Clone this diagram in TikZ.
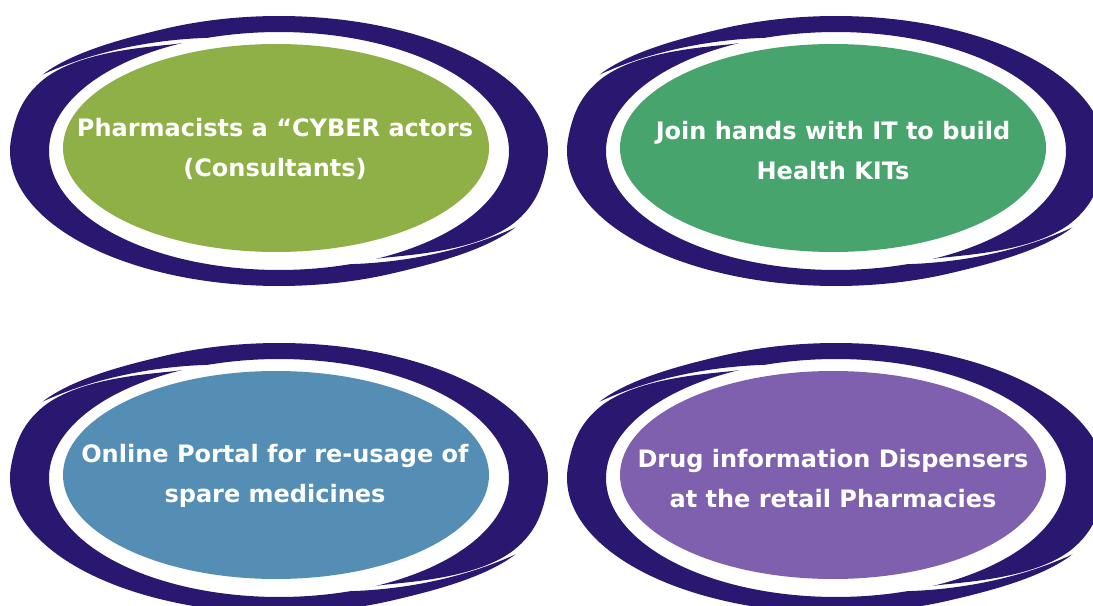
\documentclass[tikz,border=0pt]{standalone}
\usepackage{fontspec}
\setmainfont{DejaVu Sans}
\definecolor{navy}{RGB}{42,24,112}
\definecolor{cgreenA}{RGB}{143,176,71}
\definecolor{cgreenB}{RGB}{70,164,108}
\definecolor{cblue}{RGB}{85,142,180}
\definecolor{cpurple}{RGB}{127,96,174}
\usetikzlibrary{shapes.geometric}
\tikzset{
  swoosh/.style={fill=navy},
  core/.style={ellipse, minimum width=319.5pt, minimum height=156pt, inner sep=0pt},
  label/.style={text=white, align=center, font=\bfseries\fontsize{18}{30}\selectfont},
  declare function={
    tw(\t)=max(0,min(1,(\t-115)/32));
    tu(\t)=max(0,min(1,(\t+65)/34));
    tv(\t)=max(0,min(1,(\t+31)/26));
    so(\t)=(\t<-31)*1.17*(max(0.01,sin(90*tu(\t))))^1.3
          +and(\t>=-31,\t<-5)*(1+0.085*(1+cos(180*tv(\t))))
          +and(\t>=-5,\t<115)*1
          +(\t>=115)*(1+0.33*(3*tw(\t)*tw(\t)-2*tw(\t)*tw(\t)*tw(\t)));
    si(\t)=(\t>108)*1.33*(\t-108)/39;
    mx(\t,\s)=(230+39*\s)*cos(\t);
    my(\t,\s)=(119+16*\s)*sin(\t);
  }
}
\newcommand{\crescent}{%
  \fill[swoosh] plot[domain=147:-65, samples=170] ({mx(\x,so(\x))},{my(\x,so(\x))})
    -- plot[domain=-65:147, samples=170] ({mx(\x,si(\x))},{my(\x,si(\x))})
    -- cycle;}
\newcommand{\ring}[2]{%
  \begin{scope}[shift={(#1,#2)}, yscale=-1]
    \crescent
    \begin{scope}[rotate=180]\crescent\end{scope}
  \end{scope}}
\begin{document}
\begin{tikzpicture}[x=0.75pt, y=-0.75pt]
  \clip (0,0) rectangle (1093,606);
  \fill[white] (0,0) rectangle (1093,606);
  \ring{279}{151}
  \ring{836}{151}
  \ring{279}{478}
  \ring{836}{478}
  \node[core, fill=cgreenA] (e1) at (276,148) {};
  \node[core, fill=cgreenB] (e2) at (833,148) {};
  \node[core, fill=cblue] (e3) at (276,475) {};
  \node[core, fill=cpurple] (e4) at (833,475) {};
  \node[label] (t1) at (275,149) {Pharmacists a “CYBER actors\\(Consultants)};
  \node[label] (t2) at (833,151) {Join hands with IT to build\\Health KITs};
  \node[label] (t3) at (275,476) {Online Portal for re-usage of\\spare medicines};
  \node[label] (t4) at (833,479) {Drug information Dispensers\\at the retail Pharmacies};
\end{tikzpicture}
\end{document}
